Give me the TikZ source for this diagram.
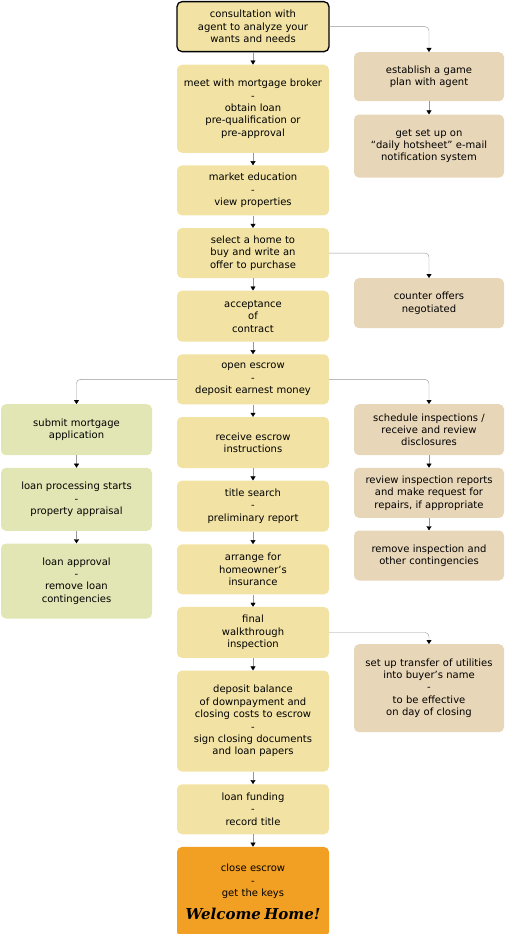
\documentclass[tikz,border=0pt]{standalone}
\usepackage{fontspec}
\setmainfont{DejaVu Sans}
\newfontfamily\welcomefont{DejaVu Serif}
\usetikzlibrary{arrows.meta, positioning}
\definecolor{stepyellow}{RGB}{242,227,165}
\definecolor{steptan}{RGB}{232,214,184}
\definecolor{stepgreen}{RGB}{226,230,180}
\definecolor{steporange}{RGB}{242,160,36}
\definecolor{linegray}{RGB}{150,150,150}
\tikzset{
    block/.style={rectangle, rounded corners=5pt, fill=stepyellow, align=center, text width=148pt, inner sep=2pt, minimum width=152pt, minimum height=50pt, font=\fontsize{10}{12.4}\selectfont},
    sideblock/.style={block, fill=steptan, minimum width=150pt, text width=146pt},
    loanblock/.style={block, fill=stepgreen, minimum width=151pt, text width=147pt},
    arrow/.style={draw=linegray, -{Triangle[length=4pt, width=5pt, color=black]}},
    branch/.style={arrow, rounded corners=4pt}
}

\begin{document}
\begin{tikzpicture}[x=1pt, y=-1pt, node distance=12.25pt]
    \useasboundingbox (0,0) rectangle (505,934);

    % main column
    \node[block, draw=black, line width=1.3pt, anchor=north] (consult) at (253,1) {consultation with\\agent to analyze your\\wants and needs};
    \node[block, below=of consult, minimum height=88pt] (broker) {meet with mortgage broker\\-\\obtain loan\\pre-qualification or\\pre-approval};
    \node[block, below=of broker] (market) {market education\\-\\view properties};
    \node[block, below=of market] (offer) {select a home to\\buy and write an\\offer to purchase};
    \node[block, below=of offer, minimum height=51pt] (accept) {acceptance\\of\\contract};
    \node[block, below=of accept] (escrow) {open escrow\\-\\deposit earnest money};
    \node[block, below=of escrow, minimum height=51pt] (instruct) {receive escrow\\instructions};
    \node[block, below=of instruct, minimum height=51pt] (title) {title search\\-\\preliminary report};
    \node[block, below=of title] (insure) {arrange for\\homeowner’s\\insurance};
    \node[block, below=of insure, minimum height=51pt] (walk) {final\\walkthrough\\inspection};
    \node[block, below=of walk, minimum height=101pt] (balance) {deposit balance\\of downpayment and\\closing costs to escrow\\-\\sign closing documents\\and loan papers};
    \node[block, below=of balance] (funding) {loan funding\\-\\record title};
    \node[block, below=of funding, fill=steporange, minimum height=90pt] (close) {close escrow\\-\\get the keys\\[8pt]{\welcomefont\bfseries\itshape\fontsize{15}{16}\selectfont Welcome Home!}};

    % right column
    \node[sideblock, anchor=north, minimum height=49pt] (plan) at (429,52) {establish a game\\plan with agent};
    \node[sideblock, below=13pt of plan, minimum height=63pt] (hotsheet) {get set up on\\“daily hotsheet” e-mail\\notification system};
    \node[sideblock, anchor=north] (counter) at (429,278) {counter offers\\negotiated};
    \node[sideblock, anchor=north, minimum height=51pt] (inspect) at (429,404) {schedule inspections /\\receive and review\\disclosures};
    \node[sideblock, below=of inspect] (reports) {review inspection reports\\and make request for\\repairs, if appropriate};
    \node[sideblock, below=of reports] (remove) {remove inspection and\\other contingencies};
    \node[sideblock, anchor=north, minimum height=88pt] (utilities) at (429,644) {set up transfer of utilities\\into buyer’s name\\-\\to be effective\\on day of closing};

    % left column
    \node[loanblock, anchor=north, minimum height=51pt] (apply) at (76.5,404) {submit mortgage\\application};
    \node[loanblock, below=of apply, minimum height=63pt] (process) {loan processing starts\\-\\property appraisal};
    \node[loanblock, below=of process, minimum height=75pt] (approval) {loan approval\\-\\remove loan\\contingencies};

    % connectors
    \draw[arrow] (consult) -- (broker);
    \draw[arrow] (broker) -- (market);
    \draw[arrow] (market) -- (offer);
    \draw[arrow] (offer) -- (accept);
    \draw[arrow] (accept) -- (escrow);
    \draw[arrow] (escrow) -- (instruct);
    \draw[arrow] (instruct) -- (title);
    \draw[arrow] (title) -- (insure);
    \draw[arrow] (insure) -- (walk);
    \draw[arrow] (walk) -- (balance);
    \draw[arrow] (balance) -- (funding);
    \draw[arrow] (funding) -- (close);

    \draw[branch] (consult.east) -| (plan);
    \draw[arrow] (plan) -- (hotsheet);
    \draw[branch] (offer.east) -| (counter);
    \draw[branch] (escrow.east) -| (inspect);
    \draw[arrow] (inspect) -- (reports);
    \draw[arrow] (reports) -- (remove);
    \draw[branch] (walk.east) -| (utilities);

    \draw[branch] (escrow.west) -| (apply);
    \draw[arrow] (apply) -- (process);
    \draw[arrow] (process) -- (approval);
\end{tikzpicture}
\end{document}
